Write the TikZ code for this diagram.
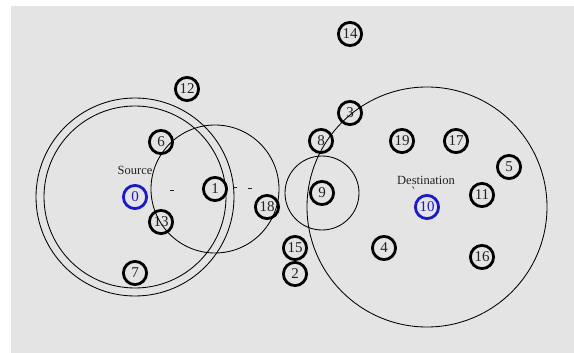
\documentclass[tikz,border=0pt]{standalone}
\usepackage{fontspec}
\setmainfont{Liberation Serif}
\definecolor{panel}{HTML}{E4E4E4}
\definecolor{ink}{HTML}{222222}
\definecolor{srcblue}{HTML}{1A1AC8}
\begin{document}
\begin{tikzpicture}[x=1pt,y=-1pt,
  mote/.style={circle,draw=black,line width=2.8pt,minimum size=23.2pt,inner sep=0pt,
    font=\fontsize{15}{15}\selectfont,text=ink},
  endpoint/.style={mote,draw=srcblue,text=srcblue},
  reach/.style={draw=black,line width=0.85pt},
  tag/.style={font=\fontsize{12.5}{12.5}\selectfont,text=ink,inner sep=0pt},
  pmark/.style={draw=ink,line width=0.7pt}]
\useasboundingbox (0,0) rectangle (574,353);
\fill[white] (0,0) rectangle (574,353);
\fill[panel] (11,6) rectangle (574,353);

% sensor nodes
\node[endpoint] (n0) at (135,197) {0};
\node[mote] (n1) at (215,189) {1};
\node[mote] (n2) at (295,274) {2};
\node[mote] (n3) at (350,113) {3};
\node[mote] (n4) at (384,248) {4};
\node[mote] (n5) at (509,167) {5};
\node[mote] (n6) at (161,142) {6};
\node[mote] (n7) at (135,273) {7};
\node[mote] (n8) at (321,141) {8};
\node[mote] (n9) at (322,193) {9};
\node[endpoint] (n10) at (427,207) {10};
\node[mote] (n11) at (482,195) {11};
\node[mote] (n12) at (187,89) {12};
\node[mote] (n13) at (161,222) {13};
\node[mote] (n14) at (350,34) {14};
\node[mote] (n15) at (295,248) {15};
\node[mote] (n16) at (482,257) {16};
\node[mote] (n17) at (456,141) {17};
\node[mote] (n18) at (267,207) {18};
\node[mote] (n19) at (402,141) {19};

% labels
\node[tag] (src) at (135,170) {Source};
\node[tag] (dst) at (426,180) {Destination};

% transmission ranges
\draw[reach] (n0) circle[radius=99];
\draw[reach] (n0) circle[radius=91];
\draw[reach] (n1) circle[radius=64];
\draw[reach] (n9) circle[radius=37];
\draw[reach] (n10) circle[radius=120];

% small packet marks
\draw[pmark] (170,190.5) -- (174,190.5);
\draw[pmark] (233,187) -- (237,187);
\draw[pmark] (248,188) -- (252,188);
\draw[pmark] (412.5,186.5) -- (414,188.5);
\end{tikzpicture}
\end{document}
